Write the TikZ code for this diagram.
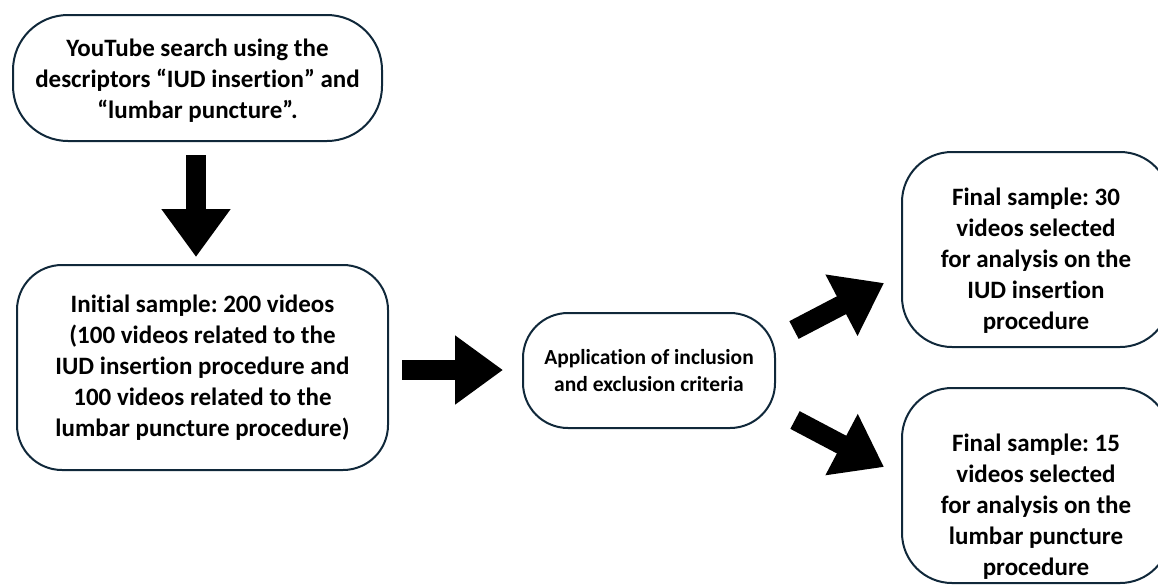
\documentclass[tikz,border=0pt]{standalone}
\usepackage{fontspec}
\setmainfont[Ligatures=NoCommon]{Carlito}
\frenchspacing
\usetikzlibrary{arrows.meta}
\definecolor{boxline}{RGB}{16,40,58}
\newcommand{\lowertext}[2]{\raisebox{-#1}[\height][\depth]{\begin{tabular}{@{}c@{}}#2\end{tabular}}}
\tikzset{
  box/.style={draw=boxline, line width=2pt, fill=white, align=center,
    font=\bfseries\fontsize{25}{31}\selectfont, inner sep=0pt},
  smallbox/.style={box, font=\bfseries\fontsize{21.5}{27}\selectfont},
  blockarrow/.style={line width=20pt, black,
    -{Triangle[length=48pt, width=66pt, sharp]}},
}
\begin{document}
\begin{tikzpicture}[x=1pt,y=-1pt]
\useasboundingbox (0,0) rectangle (1158,587);
\clip (0,0) rectangle (1158,587);
\node[box, minimum width=369pt, minimum height=126pt, rounded corners=55pt] (search) at (197.5,78)
  {\lowertext{3pt}{YouTube search using the\\descriptors “IUD insertion” and\\“lumbar puncture”.}};
\node[box, minimum width=371pt, minimum height=205pt, rounded corners=45pt] (initial) at (202.5,367.5)
  {Initial sample: 200 videos\\(100 videos related to the\\IUD insertion procedure and\\100 videos related to the\\lumbar puncture procedure)};
\node[smallbox, minimum width=252pt, minimum height=115pt, rounded corners=45pt] (criteria) at (649,370.5)
  {Application of inclusion\\and exclusion criteria};
\node[box, minimum width=268pt, minimum height=195pt, rounded corners=50pt] (iud) at (1036,249.5)
  {\lowertext{12pt}{Final sample: 30\\videos selected\\for analysis on the\\IUD insertion\\procedure}};
\node[box, minimum width=268pt, minimum height=195pt, rounded corners=50pt] (lumbar) at (1036,485.5)
  {\lowertext{22pt}{Final sample: 15\\videos selected\\for analysis on the\\lumbar puncture\\procedure}};
\coordinate (a1s) at (196,155);
\coordinate (a1e) at (196,257);
\coordinate (a2s) at (402,370);
\coordinate (a2e) at (503,370);
\coordinate (a3s) at (794,330);
\coordinate (a3e) at (884,283);
\coordinate (a4s) at (795,420);
\coordinate (a4e) at (884,467);
\draw[blockarrow] (a1s) -- (a1e);
\draw[blockarrow] (a2s) -- (a2e);
\draw[blockarrow] (a3s) -- (a3e);
\draw[blockarrow] (a4s) -- (a4e);
\end{tikzpicture}
\end{document}
